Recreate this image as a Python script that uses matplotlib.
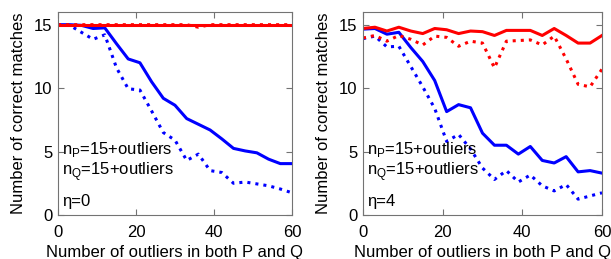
import matplotlib.pyplot as plt

plt.rcParams['font.family'] = ['Liberation Sans', 'DejaVu Sans']
plt.rcParams['mathtext.fontset'] = 'custom'
plt.rcParams['mathtext.rm'] = 'Liberation Sans'

outliers = [0, 3, 6, 9, 12, 15, 18, 21, 24, 27, 30, 33, 36, 39, 42, 45, 48, 51, 54, 57, 60]

# eta = 0
red_solid_0 = [15] * 21
red_dot_0 = [15, 15, 15, 15, 15, 15, 15, 15, 15, 15, 15, 15, 14.8, 15, 15, 15, 15, 15, 15, 15, 15]
blue_solid_0 = [15, 15, 14.95, 14.7, 14.75, 13.5, 12.3, 12.0, 10.5, 9.2, 8.65, 7.6, 7.15, 6.7, 6.0, 5.25, 5.05, 4.9, 4.4, 4.05, 4.05]
blue_dot_0 = [15, 14.95, 14.4, 13.85, 14.2, 11.6, 9.95, 9.85, 8.2, 6.5, 5.9, 4.3, 4.8, 3.5, 3.35, 2.5, 2.6, 2.45, 2.3, 2.05, 1.75]

# eta = 4
red_solid_4 = [14.7, 14.8, 14.5, 14.8, 14.5, 14.3, 14.7, 14.6, 14.3, 14.5, 14.45, 14.15, 14.55, 14.55, 14.55, 14.15, 14.7, 14.15, 13.55, 13.55, 14.15]
red_dot_4 = [13.95, 14.15, 13.7, 14.15, 13.85, 13.4, 14.1, 14.0, 13.3, 13.7, 13.55, 11.6, 13.7, 13.75, 13.8, 13.4, 14.1, 12.3, 10.3, 10.1, 11.5]
blue_solid_4 = [14.65, 14.7, 14.25, 14.4, 13.2, 12.1, 10.6, 8.15, 8.7, 8.45, 6.45, 5.5, 5.5, 4.8, 5.4, 4.3, 4.1, 4.6, 3.4, 3.5, 3.3]
blue_dot_4 = [13.9, 14.1, 13.25, 13.3, 11.7, 10.1, 8.4, 5.8, 6.35, 5.2, 3.7, 2.8, 3.5, 2.6, 3.15, 2.3, 1.9, 2.4, 1.25, 1.5, 1.75]

panels = [
    (red_solid_0, red_dot_0, blue_solid_0, blue_dot_0, 'η=0'),
    (red_solid_4, red_dot_4, blue_solid_4, blue_dot_4, 'η=4'),
]
lefts = [58 / 611, 363 / 611]
widths = [234 / 611, 239 / 611]

fig = plt.figure(figsize=(6.11, 2.59), dpi=100)

for i, (rs, rd, bs, bd, eta) in enumerate(panels):
    ax = fig.add_axes([lefts[i], 44 / 259, widths[i], 203 / 259])
    ax.plot(outliers, bd, color='blue', linestyle=':', linewidth=2.2)
    ax.plot(outliers, bs, color='blue', linewidth=2.2)
    ax.plot(outliers, rd, color='red', linestyle=':', linewidth=2.2)
    ax.plot(outliers, rs, color='red', linewidth=2.2)
    ax.set_xlim(0, 60)
    ax.set_ylim(0, 16)
    ax.set_xticks([0, 20, 40, 60])
    ax.set_yticks([0, 5, 10, 15])
    for s in ax.spines.values():
        s.set_color('0.45')
    ax.tick_params(direction='in', top=True, right=True, labelsize=12, length=4, color='0.45')
    ax.tick_params(axis='x', pad=7)
    ax.tick_params(axis='y', pad=4)
    ax.set_xlabel('Number of outliers in both P and Q', fontsize=12, labelpad=4)
    ax.set_ylabel('Number of correct matches', fontsize=12, labelpad=6)
    ax.text(1, 5.2, r'n$_\mathregular{P}$=15+outliers', fontsize=12, va='center')
    ax.text(1, 3.4, r'n$_\mathregular{Q}$=15+outliers', fontsize=12, va='center')
    ax.text(1, 1.05, eta, fontsize=12, va='center')

plt.savefig('out.png', dpi=100)
